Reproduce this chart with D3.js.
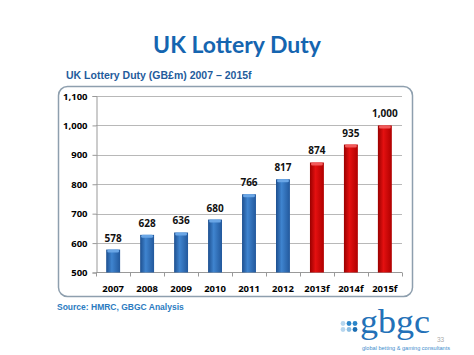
<!DOCTYPE html>
<html><head><meta charset="utf-8">
<script src="https://cdn.jsdelivr.net/npm/d3@7"></script>
<style>body{margin:0;background:#fff}svg{display:block}</style>
</head><body>
<script>
const categories = ["2007","2008","2009","2010","2011","2012","2013f","2014f","2015f"];
const values = [578,628,636,680,766,817,874,935,1000];
const labels = ["578","628","636","680","766","817","874","935","1,000"];
const forecast = [false,false,false,false,false,false,true,true,true];
const yTicks = [500,600,700,800,900,1000,1100];

const W=474,H=355;
const svg=d3.select("body").append("svg").attr("width",W).attr("height",H);
const defs=svg.append("defs");
function grad(id,dark,mid,light){
  const g=defs.append("linearGradient").attr("id",id).attr("x1","0").attr("x2","1").attr("y1","0").attr("y2","0");
  g.append("stop").attr("offset","0%").attr("stop-color",dark);
  g.append("stop").attr("offset","40%").attr("stop-color",light);
  g.append("stop").attr("offset","100%").attr("stop-color",mid);
}
grad("gb","#1d4f8f","#22589c","#3f84cf");
grad("gr","#9a0000","#b00000","#e41010");

svg.append("text").attr("x",237).attr("y",53).attr("text-anchor","middle")
  .attr("font-family","Lato, 'Open Sans', sans-serif").attr("font-weight","bold").attr("font-size",23)
  .attr("fill","#1565b0").text("UK Lottery Duty");
svg.append("text").attr("x",66).attr("y",79)
  .attr("font-family","'Liberation Sans', Arial, sans-serif").attr("font-weight","bold").attr("font-size",10.5)
  .attr("fill","#1f5c9c").text("UK Lottery Duty (GB£m) 2007 – 2015f");

svg.append("rect").attr("x",58.5).attr("y",86.5).attr("width",354).attr("height",210).attr("rx",9)
  .attr("fill","#fff").attr("stroke","#8e9fae").attr("stroke-width",1.5);

const x=d3.scaleBand().domain(categories).range([96,402]).paddingInner(0.59).paddingOuter(0.3);
const y=d3.scaleLinear().domain([500,1100]).range([272.5,96]);

// gridlines
svg.append("g").selectAll("line").data(yTicks.slice(1)).join("line")
  .attr("x1",96).attr("x2",402).attr("y1",d=>Math.round(y(d))+0.5).attr("y2",d=>Math.round(y(d))+0.5)
  .attr("stroke","#b8b8b8").attr("stroke-width",1);

const yAxis=svg.append("g").attr("transform","translate(96.5,0)")
  .call(d3.axisLeft(y).tickValues(yTicks).tickSize(4).tickFormat(d3.format(",")));
yAxis.select(".domain").attr("stroke","#999");
yAxis.selectAll(".tick line").attr("stroke","#999");
yAxis.selectAll("text").attr("font-family","'Open Sans', sans-serif").attr("font-weight","bold")
  .attr("font-size",9.5).attr("fill","#000").attr("dx",-2);

const xAxis=svg.append("g").attr("transform","translate(0,272.5)");
xAxis.append("line").attr("x1",96).attr("x2",402).attr("stroke","#999");
xAxis.selectAll("line.t").data(d3.range(categories.length+1)).join("line").attr("class","t")
  .attr("x1",i=>Math.round(96+i*306/9)+0.5).attr("x2",i=>Math.round(96+i*306/9)+0.5).attr("y1",0).attr("y2",4).attr("stroke","#999");
xAxis.selectAll("text").data(categories).join("text")
  .attr("x",d=>x(d)+x.bandwidth()/2).attr("y",19).attr("text-anchor","middle")
  .attr("font-family","'Open Sans', sans-serif").attr("font-weight","bold").attr("font-size",9.5).attr("fill","#000").text(d=>d);

const data=categories.map((c,i)=>({c,v:values[i],l:labels[i],f:forecast[i]}));
const bars=svg.append("g");
bars.selectAll("rect.bar").data(data).join("rect").attr("class","bar")
  .attr("x",d=>x(d.c)).attr("width",x.bandwidth()).attr("y",d=>y(d.v)).attr("height",d=>y(500)-y(d.v))
  .attr("fill",d=>d.f?"url(#gr)":"url(#gb)");
bars.selectAll("rect.cap").data(data).join("rect").attr("class","cap")
  .attr("x",d=>x(d.c)+1).attr("width",x.bandwidth()-2).attr("y",d=>y(d.v)).attr("height",3).attr("rx",1.5)
  .attr("fill",d=>d.f?"#f25a5a":"#6aa6e6");
bars.selectAll("text").data(data).join("text")
  .attr("x",d=>x(d.c)+x.bandwidth()/2).attr("y",d=>y(d.v)-8).attr("text-anchor","middle")
  .attr("font-family","'Open Sans', sans-serif").attr("font-weight","bold").attr("font-size",10).attr("fill","#111").text(d=>d.l);

svg.append("text").attr("x",57).attr("y",310)
  .attr("font-family","'Liberation Sans', Arial, sans-serif").attr("font-weight","bold").attr("font-size",8.5)
  .attr("fill","#2b7bbf").text("Source: HMRC, GBGC Analysis");

// logo
const dots=[[0,0,"#b7d6ee"],[1,0,"#2b86c9"],[2,0,"#2b86c9"],[0,1,"#b7d6ee"],[1,1,"#8dbfe3"],[2,1,"#1d6fb3"]];
svg.append("g").selectAll("circle").data(dots).join("circle")
  .attr("cx",d=>343+d[0]*6).attr("cy",d=>323.5+d[1]*6).attr("r",2.4).attr("fill",d=>d[2]);
svg.append("text").attr("x",360).attr("y",333).attr("font-family","'Liberation Serif', serif")
  .attr("font-size",34).attr("textLength",70).attr("lengthAdjust","spacingAndGlyphs")
  .attr("fill","#2371b8").text("gbgc");
svg.append("text").attr("x",437).attr("y",342).attr("font-family","'Liberation Sans', sans-serif")
  .attr("font-size",6.5).attr("fill","#aaa").text("33");
svg.append("text").attr("x",362).attr("y",350).attr("font-family","'Liberation Sans', sans-serif")
  .attr("font-size",5.2).attr("textLength",88).attr("lengthAdjust","spacingAndGlyphs")
  .attr("fill","#3d8ccc").text("global betting & gaming consultants");
</script>
</body></html>
